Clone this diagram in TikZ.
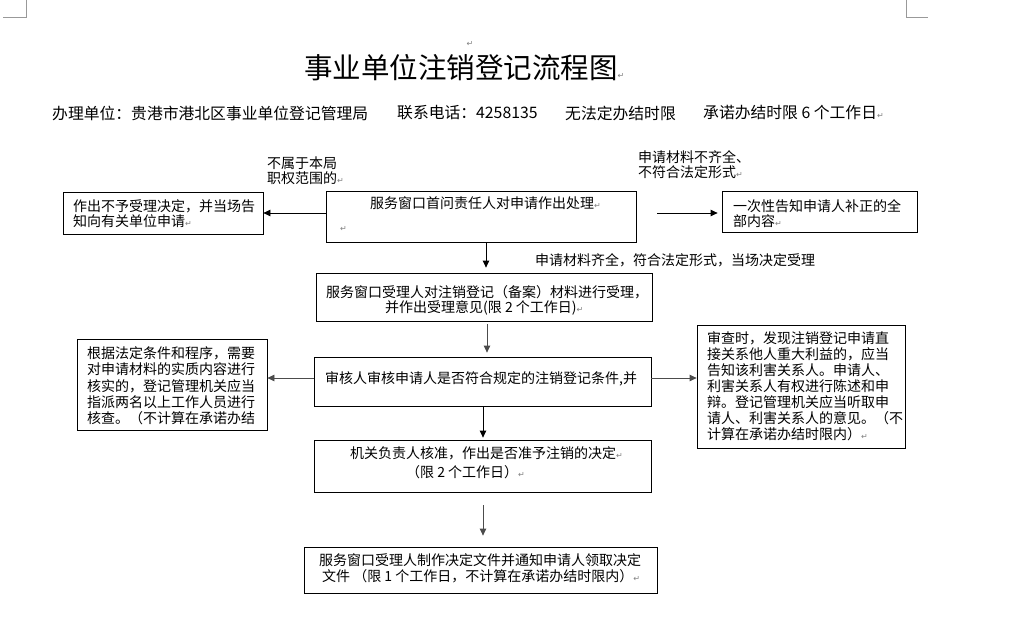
\documentclass[tikz,border=0pt]{standalone}
\usepackage{fontspec}
\setmainfont{Noto Sans CJK SC}
\newfontfamily\symf{DejaVu Sans}
\usetikzlibrary{arrows.meta}
\newcommand\pmk{{\symf\mdseries\fontsize{8pt}{8pt}\selectfont\textcolor{gray}{↵}}}
\begin{document}
\begin{tikzpicture}[x=1pt,y=-1pt,
  box/.style={draw=black, line width=0.8pt, inner sep=0pt},
  tx/.style={anchor=west, inner sep=0pt, font=\fontsize{14pt}{16pt}\selectfont},
  sub/.style={anchor=west, inner sep=0pt, font=\fontsize{15.8pt}{17pt}\selectfont},
  arr/.style={-{Triangle[length=7pt,width=6.5pt]}, line width=0.8pt, draw=black},
  garr/.style={arr, draw=black!70},
  crop/.style={draw=black!40, line width=0.8pt}
]
\useasboundingbox (0,0) rectangle (1012,643);
\fill[white] (0,0) rectangle (1012,643);
% crop marks
\draw[crop] (26,0) -- (26,17) -- (3,17);
\draw[crop] (906,0) -- (906,17) -- (928,17);

% title and header
\node[inner sep=0pt] (pm0) at (470,44) {\pmk};
\node[anchor=west, inner sep=0pt, font=\fontsize{28.5pt}{30pt}\selectfont] (title) at (304,68) {事业单位注销登记流程图\pmk};
\node[sub] (h1) at (52,113) {办理单位：贵港市港北区事业单位登记管理局};
\node[sub] (h2) at (397,113) {联系电话：4258135};
\node[sub] (h3) at (565,113) {无法定办结时限};
\node[sub] (h4) at (703,113) {承诺办结时限 6 个工作日\pmk};

% boxes
\node[box, minimum width=200pt, minimum height=42pt] (L1) at (163,213) {};
\node[box, minimum width=310pt, minimum height=51pt] (A) at (481,216.5) {};
\node[box, minimum width=195pt, minimum height=41pt] (R1) at (819.5,211.5) {};
\node[box, minimum width=336pt, minimum height=48pt] (B) at (484,297) {};
\node[box, minimum width=190pt, minimum height=91pt] (L2) at (172,384.5) {};
\node[box, minimum width=337pt, minimum height=49pt] (C) at (482.5,381.5) {};
\node[box, minimum width=208pt, minimum height=123pt] (R2) at (801,386.5) {};
\node[box, minimum width=337pt, minimum height=52pt] (D) at (482.5,466) {};
\node[box, minimum width=353pt, minimum height=46pt] (E) at (480.5,570) {};

% labels
\node[tx] (la1) at (267,163) {不属于本局};
\node[tx] (la2) at (267,178) {职权范围的\pmk};
\node[tx] (lb1) at (638,157) {申请材料不齐全、};
\node[tx] (lb2) at (638,172) {不符合法定形式\pmk};
\node[tx] (lc1) at (535,260) {申请材料齐全，符合法定形式，当场决定受理};

% box texts
\node[tx] (tL1a) at (73,206) {作出不予受理决定，并当场告};
\node[tx] (tL1b) at (73,221) {知向有关单位申请\pmk};
\node[tx] (tAa) at (370,203) {服务窗口首问责任人对申请作出处理\pmk};
\node[tx] (tAb) at (340,229) {\pmk};
\node[tx] (tR1a) at (733,206) {一次性告知申请人补正的全};
\node[tx] (tR1b) at (733,221) {部内容\pmk};
\node[tx] (tBa) at (326,292) {服务窗口受理人对注销登记（备案）材料进行受理，};
\node[tx] (tBb) at (385,308) {并作出受理意见(限 2 个工作日)\pmk};
\node[tx] (tL2a) at (87,353) {根据法定条件和程序，需要};
\node[tx] (tL2b) at (87,369) {对申请材料的实质内容进行};
\node[tx] (tL2c) at (87,386) {核实的，登记管理机关应当};
\node[tx] (tL2d) at (87,402) {指派两名以上工作人员进行};
\node[tx] (tL2e) at (87,418) {核查。（不计算在承诺办结};
\node[tx] (tC) at (325,379) {审核人审核申请人是否符合规定的注销登记条件,并};
\node[tx] (tR2a) at (707,338) {审查时，发现注销登记申请直};
\node[tx] (tR2b) at (707,354) {接关系他人重大利益的，应当};
\node[tx] (tR2c) at (707,370) {告知该利害关系人。申请人、};
\node[tx] (tR2d) at (707,386) {利害关系人有权进行陈述和申};
\node[tx] (tR2e) at (707,402) {辩。登记管理机关应当听取申};
\node[tx] (tR2f) at (707,418) {请人、利害关系人的意见。（不};
\node[tx] (tR2g) at (707,434) {计算在承诺办结时限内）\pmk};
\node[tx] (tDa) at (350,453) {机关负责人核准，作出是否准予注销的决定\pmk};
\node[tx] (tDb) at (406,472) {（限 2 个工作日）\pmk};
\node[tx] (tEa) at (319,560) {服务窗口受理人制作决定文件并通知申请人领取决定};
\node[tx] (tEb) at (322,576) {文件 （限 1 个工作日，不计算在承诺办结时限内）\pmk};

% connectors
\coordinate (colA) at (486,0);
\coordinate (colB) at (487,0);
\coordinate (colD) at (483,0);
\coordinate (rowC) at (0,378);
\coordinate (r1s) at (657,213);
\draw[arr] (A.west |- L1.east) -- (L1.east);
\draw[arr] (r1s) -- ([xshift=-4pt]R1.west |- r1s);
\draw[arr, shorten >=5pt] (A.south -| colA) -- (B.north -| colA);
\draw[garr, shorten <=3pt, shorten >=4pt] (B.south -| colB) -- (C.north -| colB);
\draw[garr] (C.west |- rowC) -- (L2.east |- rowC);
\draw[garr] (C.east |- rowC) -- (R2.west |- rowC);
\draw[arr, shorten >=2pt] (C.south -| colD) -- (D.north -| colD);
\draw[garr, shorten <=13pt, shorten >=11pt] (D.south -| colD) -- (E.north -| colD);
\end{tikzpicture}
\end{document}
